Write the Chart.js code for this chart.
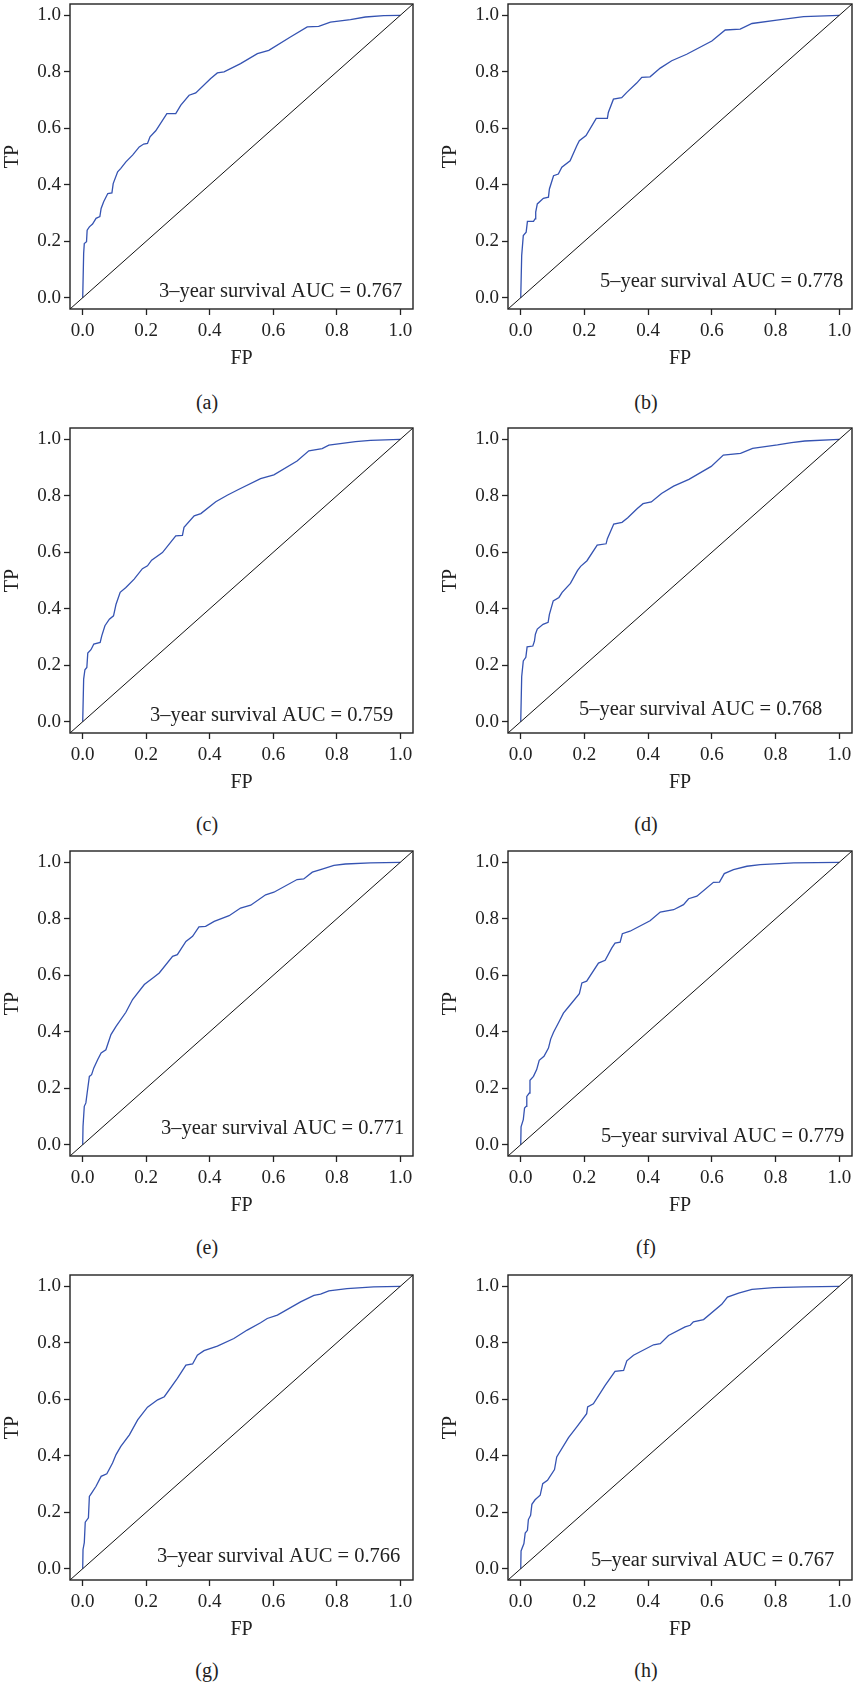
<!DOCTYPE html>
<html>
<head>
<meta charset="utf-8">
<script src="https://cdn.jsdelivr.net/npm/chart.js@4/dist/chart.umd.min.js"></script>
<style>
  body { margin: 0; background: #fff; }
  #page { position: relative; width: 853px; height: 1685px; background: #fff; overflow: hidden; }
  canvas { position: absolute; }
  .cap { position: absolute; width: 200px; text-align: center; font: 20px "Liberation Serif", serif; color: #222; line-height: 24px; }
</style>
</head>
<body>
<div id="page"></div>
<script>
// ROC curves, one FP / TP pair per panel
var fpA = [0, 0.003, 0.005, 0.012, 0.014, 0.021, 0.031, 0.042, 0.054, 0.058, 0.066, 0.079, 0.092, 0.096, 0.110, 0.120, 0.136, 0.157, 0.178, 0.192, 0.204, 0.212, 0.230, 0.265, 0.293, 0.309, 0.335, 0.356, 0.403, 0.424, 0.445, 0.497, 0.550, 0.586, 0.654, 0.707, 0.743, 0.780, 0.843, 0.890, 0.948, 1];
var tpA = [0, 0.157, 0.192, 0.198, 0.239, 0.251, 0.261, 0.281, 0.287, 0.316, 0.340, 0.369, 0.371, 0.404, 0.446, 0.458, 0.481, 0.505, 0.534, 0.544, 0.546, 0.570, 0.591, 0.652, 0.652, 0.682, 0.717, 0.725, 0.776, 0.796, 0.800, 0.829, 0.864, 0.876, 0.923, 0.959, 0.961, 0.976, 0.985, 0.994, 0.999, 1];

var fpB = [0, 0.003, 0.008, 0.017, 0.021, 0.040, 0.045, 0.047, 0.052, 0.071, 0.087, 0.090, 0.103, 0.118, 0.129, 0.155, 0.176, 0.184, 0.205, 0.237, 0.272, 0.275, 0.291, 0.317, 0.333, 0.364, 0.380, 0.406, 0.438, 0.474, 0.521, 0.600, 0.642, 0.689, 0.726, 0.804, 0.846, 0.888, 1];
var tpB = [0, 0.150, 0.220, 0.232, 0.270, 0.270, 0.279, 0.303, 0.332, 0.352, 0.356, 0.385, 0.432, 0.438, 0.462, 0.485, 0.538, 0.556, 0.574, 0.635, 0.635, 0.656, 0.703, 0.708, 0.727, 0.760, 0.780, 0.782, 0.813, 0.839, 0.862, 0.909, 0.948, 0.951, 0.971, 0.983, 0.989, 0.995, 1];

var fpC = [0, 0.003, 0.007, 0.013, 0.016, 0.026, 0.035, 0.055, 0.060, 0.070, 0.084, 0.097, 0.105, 0.118, 0.136, 0.162, 0.188, 0.204, 0.217, 0.251, 0.293, 0.314, 0.319, 0.351, 0.372, 0.419, 0.455, 0.492, 0.560, 0.602, 0.675, 0.712, 0.754, 0.775, 0.859, 0.906, 1];
var tpC = [0, 0.151, 0.184, 0.192, 0.243, 0.255, 0.275, 0.281, 0.304, 0.340, 0.363, 0.375, 0.416, 0.458, 0.475, 0.505, 0.542, 0.552, 0.572, 0.599, 0.658, 0.660, 0.688, 0.729, 0.737, 0.779, 0.802, 0.823, 0.861, 0.874, 0.923, 0.959, 0.967, 0.979, 0.992, 0.996, 1];

var fpD = [0, 0.003, 0.008, 0.016, 0.020, 0.038, 0.043, 0.046, 0.052, 0.070, 0.086, 0.090, 0.102, 0.120, 0.130, 0.156, 0.178, 0.188, 0.208, 0.240, 0.268, 0.272, 0.292, 0.318, 0.336, 0.366, 0.384, 0.410, 0.442, 0.480, 0.528, 0.598, 0.636, 0.690, 0.728, 0.806, 0.850, 0.892, 1];
var tpD = [0, 0.160, 0.215, 0.228, 0.265, 0.268, 0.285, 0.310, 0.328, 0.345, 0.352, 0.380, 0.428, 0.440, 0.458, 0.490, 0.535, 0.550, 0.570, 0.625, 0.630, 0.648, 0.700, 0.706, 0.722, 0.755, 0.772, 0.778, 0.808, 0.834, 0.858, 0.904, 0.944, 0.950, 0.968, 0.980, 0.988, 0.994, 1];

var fpE = [0, 0.001, 0.005, 0.010, 0.014, 0.021, 0.028, 0.035, 0.047, 0.058, 0.073, 0.089, 0.105, 0.136, 0.157, 0.194, 0.225, 0.241, 0.283, 0.298, 0.325, 0.346, 0.366, 0.387, 0.414, 0.461, 0.497, 0.529, 0.576, 0.602, 0.675, 0.696, 0.723, 0.754, 0.791, 0.827, 0.906, 1];
var tpE = [0, 0.065, 0.136, 0.148, 0.183, 0.242, 0.248, 0.272, 0.301, 0.325, 0.336, 0.390, 0.419, 0.469, 0.514, 0.567, 0.594, 0.608, 0.667, 0.673, 0.720, 0.738, 0.771, 0.773, 0.791, 0.811, 0.838, 0.848, 0.885, 0.894, 0.939, 0.941, 0.965, 0.976, 0.989, 0.994, 0.998, 1];

var fpF = [0, 0.001, 0.008, 0.012, 0.017, 0.019, 0.027, 0.029, 0.040, 0.050, 0.058, 0.073, 0.087, 0.094, 0.103, 0.121, 0.134, 0.153, 0.184, 0.192, 0.207, 0.244, 0.265, 0.286, 0.296, 0.312, 0.319, 0.343, 0.406, 0.438, 0.480, 0.511, 0.527, 0.553, 0.605, 0.624, 0.639, 0.668, 0.710, 0.752, 0.857, 1];
var tpF = [0, 0.063, 0.089, 0.130, 0.136, 0.171, 0.183, 0.228, 0.242, 0.266, 0.299, 0.313, 0.342, 0.374, 0.398, 0.437, 0.466, 0.492, 0.535, 0.573, 0.579, 0.643, 0.653, 0.697, 0.714, 0.717, 0.747, 0.756, 0.793, 0.824, 0.832, 0.850, 0.871, 0.880, 0.929, 0.930, 0.960, 0.974, 0.986, 0.992, 0.998, 1];

var fpG = [0, 0.001, 0.005, 0.008, 0.018, 0.021, 0.028, 0.042, 0.058, 0.076, 0.094, 0.105, 0.120, 0.147, 0.173, 0.204, 0.236, 0.257, 0.298, 0.325, 0.346, 0.361, 0.382, 0.424, 0.476, 0.518, 0.560, 0.581, 0.613, 0.686, 0.728, 0.749, 0.775, 0.832, 0.916, 1];
var tpG = [0, 0.068, 0.092, 0.165, 0.180, 0.256, 0.268, 0.292, 0.327, 0.336, 0.374, 0.404, 0.433, 0.474, 0.527, 0.572, 0.598, 0.609, 0.674, 0.721, 0.725, 0.756, 0.772, 0.788, 0.815, 0.845, 0.871, 0.886, 0.898, 0.945, 0.968, 0.972, 0.984, 0.992, 0.998, 1];

var fpH = [0, 0.001, 0.010, 0.014, 0.021, 0.024, 0.031, 0.035, 0.045, 0.061, 0.069, 0.084, 0.106, 0.113, 0.150, 0.176, 0.207, 0.210, 0.228, 0.265, 0.296, 0.323, 0.333, 0.354, 0.417, 0.438, 0.464, 0.516, 0.532, 0.542, 0.574, 0.631, 0.649, 0.684, 0.726, 0.794, 0.888, 1];
var tpH = [0, 0.063, 0.089, 0.126, 0.136, 0.174, 0.189, 0.228, 0.244, 0.260, 0.301, 0.313, 0.351, 0.396, 0.464, 0.502, 0.549, 0.573, 0.584, 0.649, 0.699, 0.702, 0.736, 0.756, 0.793, 0.797, 0.826, 0.856, 0.862, 0.874, 0.882, 0.936, 0.962, 0.976, 0.989, 0.995, 0.998, 1];

var diagX = [-0.04, 1.04];
var diagY = [-0.04, 1.04];
var tickVals = [0, 0.2, 0.4, 0.6, 0.8, 1.0];

var panelFP = [fpA, fpB, fpC, fpD, fpE, fpF, fpG, fpH];
var panelTP = [tpA, tpB, tpC, tpD, tpE, tpF, tpG, tpH];
var captions = ["(a)", "(b)", "(c)", "(d)", "(e)", "(f)", "(g)", "(h)"];
var aucLabels = [
  "3\u2013year survival AUC = 0.767", "5\u2013year survival AUC = 0.778",
  "3\u2013year survival AUC = 0.759", "5\u2013year survival AUC = 0.768",
  "3\u2013year survival AUC = 0.771", "5\u2013year survival AUC = 0.779",
  "3\u2013year survival AUC = 0.766", "5\u2013year survival AUC = 0.767"
];

// layout (pixels)
var boxTops = [4, 428, 851, 1275];
var capCenters = [402, 824, 1247, 1670];
var colLeft = [0, 438], colWidth = [420, 415], padRight = [7, 1], capX = [207, 646];
// AUC text: offset from the (1, 0) point, [dx, dy up]
var aucOff = [[2, 6], [4, 16], [-7, 6], [-17, 12], [4, 16], [5, 8], [0, 12], [-5, 8]];

var FONT = '"Liberation Serif", "Times New Roman", serif';
var page = document.getElementById('page');

function pts(xs, ys) {
  return xs.map(function(x, i) { return {x: x, y: ys[i]}; });
}

var boxPlugin = {
  id: 'box',
  afterDatasetsDraw: function(chart) {
    var a = chart.chartArea, ctx = chart.ctx;
    ctx.save();
    ctx.strokeStyle = '#222';
    ctx.lineWidth = 1.4;
    ctx.strokeRect(a.left, a.top, a.right - a.left, a.bottom - a.top);
    var i = chart.options.plugins.box.idx;
    var off = aucOff[i];
    ctx.font = '20.5px ' + FONT;
    ctx.fillStyle = '#222';
    ctx.textAlign = 'right';
    ctx.textBaseline = 'middle';
    ctx.fillText(aucLabels[i], chart.scales.x.getPixelForValue(1) + off[0], chart.scales.y.getPixelForValue(0) - off[1]);
    ctx.restore();
  }
};

function makePanel(i) {
  var row = Math.floor(i / 2), col = i % 2;
  var cv = document.createElement('canvas');
  cv.width = colWidth[col];
  cv.height = 372;
  cv.style.left = colLeft[col] + 'px';
  cv.style.top = (boxTops[row] - 4) + 'px';
  page.appendChild(cv);

  var cap = document.createElement('div');
  cap.className = 'cap';
  cap.textContent = captions[i];
  cap.style.left = (capX[col] - 100) + 'px';
  cap.style.top = (capCenters[row] - 12) + 'px';
  page.appendChild(cap);

  var tickFont = {family: FONT, size: 19};
  new Chart(cv, {
    type: 'scatter',
    data: {
      datasets: [
        {data: pts(diagX, diagY), showLine: true, borderColor: '#111', borderWidth: 1, pointRadius: 0},
        {data: pts(panelFP[i], panelTP[i]), showLine: true, borderColor: '#3553b2', borderWidth: 1.3, pointRadius: 0}
      ]
    },
    options: {
      responsive: false,
      animation: false,
      devicePixelRatio: 1,
      layout: {padding: {top: 4, right: padRight[col], left: 0, bottom: 0}},
      plugins: {legend: {display: false}, tooltip: {enabled: false}, box: {idx: i}},
      scales: {
        x: {
          type: 'linear', min: -0.04, max: 1.04,
          afterBuildTicks: function(s) { s.ticks = tickVals.map(function(v) { return {value: v}; }); },
          afterFit: function(s) { s.height = 63; s.paddingLeft = 0; s.paddingRight = 0; },
          ticks: {font: tickFont, color: '#222', padding: 5, maxRotation: 0, autoSkip: false,
                  callback: function(v) { return v.toFixed(1); }},
          grid: {drawOnChartArea: false, drawTicks: true, tickLength: 6, color: '#222', tickWidth: 1.3},
          border: {display: false},
          title: {display: true, text: 'FP', font: {family: FONT, size: 20}, color: '#222', padding: {top: 0, bottom: 1}}
        },
        y: {
          type: 'linear', min: -0.04, max: 1.04,
          afterBuildTicks: function(s) { s.ticks = tickVals.map(function(v) { return {value: v}; }); },
          afterFit: function(s) { s.width = 70; s.paddingTop = 0; s.paddingBottom = 0; },
          ticks: {font: tickFont, color: '#222', padding: 3, autoSkip: false,
                  callback: function(v) { return v.toFixed(1); }},
          grid: {drawOnChartArea: false, drawTicks: true, tickLength: 6, color: '#222', tickWidth: 1.3},
          border: {display: false},
          title: {display: true, text: 'TP', font: {family: FONT, size: 20}, color: '#222', padding: {top: 1, bottom: 0}}
        }
      }
    },
    plugins: [boxPlugin]
  });
}

for (var i = 0; i < 8; i++) makePanel(i);
</script>
</body>
</html>
